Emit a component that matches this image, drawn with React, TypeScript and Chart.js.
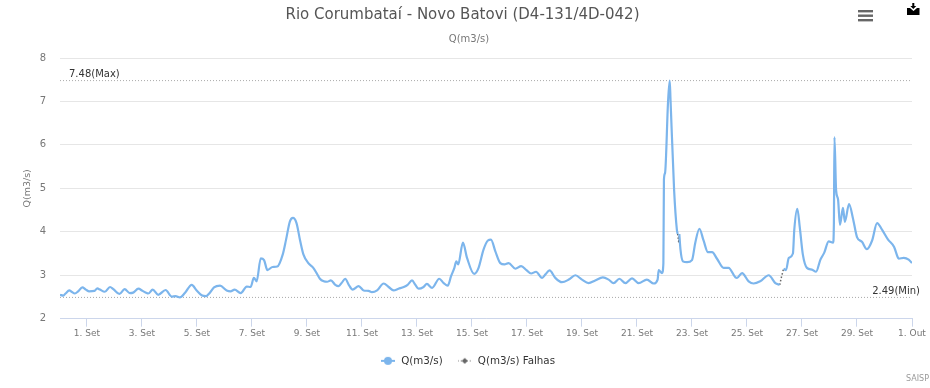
import { useEffect, useRef } from "react";
import { Chart, registerables } from "chart.js";

Chart.register(...registerables);

const chartTitle = "Rio Corumbataí - Novo Batovi (D4-131/4D-042)";
const chartSubtitle = "Q(m3/s)";
const yAxisTitle = "Q(m3/s)";
const seriesName = "Q(m3/s)";
const gapSeriesName = "Q(m3/s) Falhas";
const creditText = "SAISP";

const maxValue = 7.48;
const minValue = 2.49;
const maxLabel = "7.48(Max)";
const minLabel = "2.49(Min)";

const xTickDays = [1, 3, 5, 7, 9, 11, 13, 15, 17, 19, 21, 23, 25, 27, 29, 31];
const xTickLabels = ["1. Set", "3. Set", "5. Set", "7. Set", "9. Set", "11. Set", "13. Set", "15. Set", "17. Set", "19. Set", "21. Set", "23. Set", "25. Set", "27. Set", "29. Set", "1. Out"];

const flowDays = [
  0.02, 0.14, 0.22, 0.36, 0.44, 0.56, 0.68, 0.83, 0.96, 1.08, 1.27, 1.38, 1.47, 1.65, 1.84, 1.96, 2.18, 2.37, 2.56, 2.68, 2.87, 3.02, 3.17, 3.23, 3.39, 3.59, 3.86, 4.08, 4.22, 4.38, 4.56, 4.81, 4.99, 5.17, 5.33, 5.47, 5.62, 5.84, 6.08, 6.22, 6.37, 6.59, 6.81, 6.95, 7.07, 7.17, 7.32, 7.44, 7.56, 7.75, 7.92, 8.12, 8.24, 8.38, 8.49, 8.62, 8.75, 8.87, 9.05, 9.23, 9.35, 9.47,
  9.61, 9.73, 9.87, 10.03, 10.15, 10.27, 10.39, 10.52, 10.66, 10.88, 11.06, 11.24, 11.36, 11.55, 11.79, 11.97, 12.15, 12.33, 12.52, 12.66, 12.82, 12.94, 13.06, 13.24, 13.36, 13.55, 13.81, 13.97, 14.12, 14.24, 14.36, 14.43, 14.5, 14.67, 14.82, 15.08, 15.24, 15.42, 15.58, 15.69, 15.85, 16.03, 16.18, 16.33, 16.58, 16.79, 16.98, 17.15, 17.33, 17.55, 17.67, 17.82, 18.03, 18.27, 18.52, 18.76, 19.0, 19.24, 19.48, 19.76, 19.97, 20.15, 20.36, 20.58, 20.82, 21.06,
  21.36, 21.61, 21.75, 21.79, 21.91, 21.96, 21.98, 22.02, 22.13, 22.19, 22.22, 22.35, 22.45, 22.48, 22.52, 22.54, 22.58, 22.67, 22.82, 23, 23.12, 23.27, 23.42, 23.58, 23.73, 23.91, 24.15, 24.33, 24.58, 24.64, 24.82, 25.06, 25.24, 25.48, 25.79, 26.03, 26.19,
  26.2, 26.33, 26.42, 26.52, 26.67, 26.72, 26.83, 26.92, 27.03, 27.18, 27.36, 27.51, 27.67, 27.81, 27.97, 28.13, 28.16, 28.18, 28.24, 28.31, 28.38, 28.49, 28.56, 28.71, 28.85, 29, 29.18, 29.36, 29.55, 29.73, 29.91, 30.13, 30.35, 30.49, 30.52, 30.7, 30.88, 31,
];

const flowValues: (number | null)[] = [
  2.55, 2.53, 2.58, 2.65, 2.62, 2.58, 2.63, 2.72, 2.67, 2.63, 2.64, 2.7, 2.67, 2.62, 2.73, 2.68, 2.57, 2.68, 2.59, 2.6, 2.69, 2.64, 2.59, 2.58, 2.67, 2.55, 2.66, 2.51, 2.52, 2.49, 2.59, 2.78, 2.65, 2.54, 2.52, 2.6, 2.72, 2.76, 2.65, 2.63, 2.67, 2.59, 2.74, 2.73, 2.94, 2.86, 3.39, 3.35, 3.12, 3.19, 3.2, 3.48, 3.82, 4.24, 4.32, 4.2, 3.8, 3.48, 3.28, 3.17, 3.05, 2.92,
  2.86, 2.85, 2.88, 2.78, 2.75, 2.83, 2.92, 2.78, 2.67, 2.75, 2.65, 2.64, 2.61, 2.65, 2.81, 2.73, 2.65, 2.69, 2.73, 2.78, 2.88, 2.78, 2.69, 2.73, 2.8, 2.71, 2.92, 2.82, 2.76, 2.98, 3.17, 3.32, 3.25, 3.75, 3.4, 3.03, 3.17, 3.59, 3.8, 3.82, 3.55, 3.28, 3.25, 3.28, 3.15, 3.21, 3.12, 3.04, 3.08, 2.94, 3.02, 3.11, 2.94, 2.84, 2.9, 3, 2.9, 2.82, 2.88, 2.95, 2.9, 2.82, 2.92, 2.82, 2.93, 2.82,
  2.9, 2.81, 2.9, 3.12, 3.05, 3.28, 5.2, 5.35, 7, 7.48, 7.03, 4.96, 4.05, 3.95, null, 3.95, 3.6, 3.32, 3.3, 3.35, 3.75, 4.07, 3.8, 3.53, 3.53, 3.38, 3.17, 3.17, 2.95, 2.94, 3.05, 2.86, 2.81, 2.86, 3, 2.82, 2.78,
  null, 3.15, 3.12, 3.4, 3.5, 4.05, 4.53, 4.1, 3.48, 3.17, 3.13, 3.08, 3.36, 3.52, 3.78, 3.75, 4.2, 6.18, 4.96, 4.75, 4.16, 4.55, 4.23, 4.64, 4.32, 3.88, 3.77, 3.6, 3.8, 4.2, 4.05, 3.82, 3.65, 3.4, 3.38, 3.4, 3.36, 3.28,
];

const gapDays = [22.48, 22.52, 22.54, 22.55, 26.19, 26.25, 26.33];
const gapValues: (number | null)[] = [3.95, 3.75, 3.95, null, 2.78, 2.95, 3.15];

const BLUE = "#7cb5ec";
const GAP = "#666666";
const FONT = "'DejaVu Sans', sans-serif";

function legendIcon(color: string, dotted: boolean, diamond: boolean): HTMLCanvasElement {
  const c = document.createElement("canvas");
  c.width = 14;
  c.height = 10;
  const g = c.getContext("2d")!;
  g.strokeStyle = color;
  g.fillStyle = color;
  g.lineWidth = dotted ? 1 : 2;
  if (dotted) g.setLineDash([1, 2]);
  g.beginPath();
  g.moveTo(0, 5);
  g.lineTo(14, 5);
  g.stroke();
  g.beginPath();
  if (diamond) {
    g.moveTo(7, 2);
    g.lineTo(10, 5);
    g.lineTo(7, 8);
    g.lineTo(4, 5);
    g.closePath();
  } else {
    g.arc(7, 5, 4, 0, Math.PI * 2);
  }
  g.fill();
  return c;
}

const decorPlugin = {
  id: "decor",
  afterLayout(chart: any) {
    for (const box of chart.boxes) {
      let shift = 0;
      if (box === chart.legend) shift = 11.5;
      else if (box.options?.text === chartTitle && box.options?.font?.size === 15) shift = 6.5;
      else if (box.options?.text === chartSubtitle && box.options?.font?.size === 10) shift = 13;
      if (shift) {
        box.left += shift;
        box.right += shift;
      }
    }
  },
  afterDraw(chart: any) {
    const { ctx, scales } = chart;
    const { x, y } = scales;
    ctx.save();
    ctx.font = `10px ${FONT}`;
    ctx.fillStyle = "#333333";
    ctx.textBaseline = "middle";
    ctx.textAlign = "left";
    ctx.fillText(maxLabel, x.left + 9, y.getPixelForValue(maxValue) - 6);
    ctx.textAlign = "right";
    ctx.fillText(minLabel, x.right + 8, y.getPixelForValue(minValue) - 6.5);

    ctx.fillStyle = "#999999";
    ctx.font = `8px ${FONT}`;
    ctx.fillText(creditText, 929, 379);

    // menu button
    ctx.fillStyle = "#666666";
    for (const top of [10, 14.5, 19]) ctx.fillRect(858, top, 15, 2.4);

    // download button
    ctx.fillStyle = "#000000";
    ctx.beginPath();
    ctx.moveTo(907, 8);
    ctx.lineTo(910, 8);
    ctx.lineTo(913.5, 11);
    ctx.lineTo(917, 8);
    ctx.lineTo(919.5, 8);
    ctx.lineTo(919.5, 15);
    ctx.lineTo(907, 15);
    ctx.closePath();
    ctx.fill();
    ctx.beginPath();
    ctx.moveTo(912.3, 3);
    ctx.lineTo(914.3, 3);
    ctx.lineTo(914.3, 6);
    ctx.lineTo(916.3, 6);
    ctx.lineTo(913.3, 9);
    ctx.lineTo(910.3, 6);
    ctx.lineTo(912.3, 6);
    ctx.closePath();
    ctx.fill();
    ctx.restore();
  },
};

export default function App() {
  const ref = useRef<HTMLCanvasElement>(null);

  useEffect(() => {
    const icons = [legendIcon(BLUE, false, false), legendIcon(GAP, true, true)];
    const xMin = 0.02;
    const xMax = 31;
    const chart = new Chart(ref.current!, {
      type: "line",
      plugins: [decorPlugin],
      data: {
        datasets: [
          {
            label: seriesName,
            data: flowDays.map((d, i) => ({ x: d, y: flowValues[i] })),
            borderColor: BLUE,
            backgroundColor: BLUE,
            borderWidth: 2.2,
            pointRadius: 0,
            cubicInterpolationMode: "monotone",
            spanGaps: false,
          },
          {
            label: gapSeriesName,
            data: gapDays.map((d, i) => ({ x: d, y: gapValues[i] })),
            borderColor: GAP,
            backgroundColor: GAP,
            borderWidth: 1.5,
            borderDash: [1.5, 2],
            pointRadius: 0,
            spanGaps: false,
          },
          {
            label: "max",
            data: [{ x: xMin, y: maxValue }, { x: xMax, y: maxValue }],
            borderColor: "#aaaaaa",
            borderWidth: 1,
            borderDash: [1, 2],
            pointRadius: 0,
          },
          {
            label: "min",
            data: [{ x: xMin, y: minValue }, { x: xMax, y: minValue }],
            borderColor: "#aaaaaa",
            borderWidth: 1,
            borderDash: [1, 2],
            pointRadius: 0,
          },
        ],
      } as any,
      options: {
        animation: false,
        responsive: false,
        layout: { padding: { top: 5, right: 18, bottom: 12, left: 0 } },
        plugins: {
          tooltip: { enabled: false },
          title: {
            display: true,
            text: chartTitle,
            color: "#555555",
            font: { family: FONT, size: 15, weight: "normal" },
            padding: { top: 1, bottom: 9 },
          },
          subtitle: {
            display: true,
            text: chartSubtitle,
            color: "#777777",
            font: { family: FONT, size: 10, weight: "normal" },
            padding: { top: 0, bottom: 13 },
          },
          legend: {
            position: "bottom",
            labels: {
              usePointStyle: true,
              pointStyleWidth: 16,
              color: "#333333",
              font: { family: FONT, size: 10.3 },
              padding: 14,
              generateLabels: () =>
                [seriesName, gapSeriesName].map((text, i) => ({
                  text,
                  datasetIndex: i,
                  pointStyle: icons[i],
                  fontColor: "#333333",
                  hidden: false,
                })),
            },
          },
        },
        scales: {
          x: {
            type: "linear",
            min: xMin,
            max: xMax,
            afterBuildTicks: (s: any) => {
              s.ticks = xTickDays.map((value) => ({ value }));
            },
            afterFit: (s: any) => {
              s.height = 23;
            },
            grid: {
              drawOnChartArea: false,
              drawTicks: true,
              tickLength: 8,
              color: "#ccd6eb",
            },
            border: { display: true, color: "#ccd6eb", width: 1 },
            ticks: {
              autoSkip: false,
              maxRotation: 0,
              color: "#777777",
              padding: 2,
              font: { family: FONT, size: 9 },
              callback: (v: any) => {
                const i = xTickDays.indexOf(Number(v));
                return i >= 0 ? xTickLabels[i] : "";
              },
            },
          },
          y: {
            type: "linear",
            min: 2,
            max: 8,
            afterFit: (s: any) => {
              s.width = 60;
            },
            grid: { color: "#e6e6e6", drawTicks: false },
            border: { display: false },
            ticks: {
              stepSize: 1,
              color: "#777777",
              padding: 14,
              font: { family: FONT, size: 10 },
            },
            title: {
              display: true,
              text: yAxisTitle,
              color: "#777777",
              font: { family: FONT, size: 9.5 },
              padding: { top: 22, bottom: 0 },
            },
          },
        },
      } as any,
    });
    return () => chart.destroy();
  }, []);

  return (
    <div style={{ position: "absolute", left: 0, top: 0, width: 930, height: 388 }}>
      <canvas ref={ref} width={930} height={388} style={{ display: "block", width: 930, height: 388 }} />
    </div>
  );
}
